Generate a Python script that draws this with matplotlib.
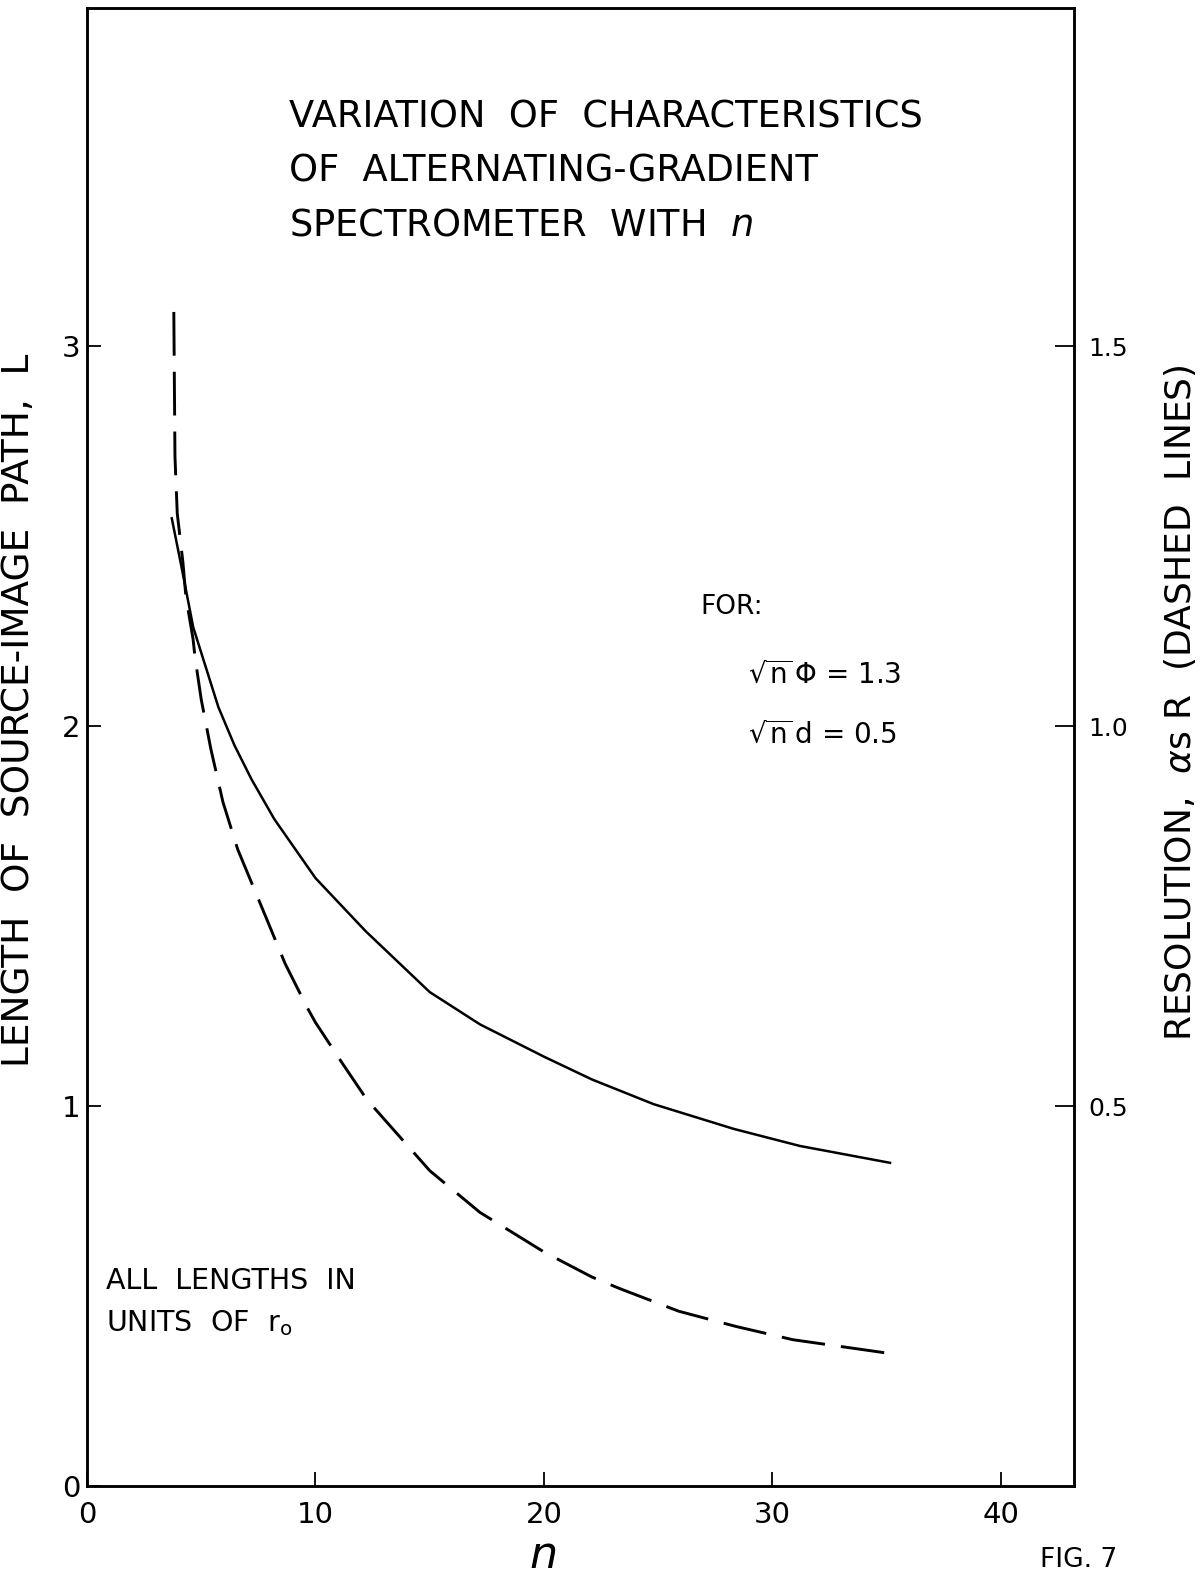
import numpy as np
import matplotlib
matplotlib.use("Agg")
from matplotlib import pyplot as plt

plt.rcParams['font.family'] = ['DejaVu Sans']
plt.rcParams['mathtext.fontset'] = 'dejavusans'

# solid curve: length of source-image path L vs n (left axis)
n_len = [3.7, 4.1, 4.65, 5.75, 6.45, 7.2, 8.2, 10.0, 12.2, 15.0, 17.2, 20.0, 22.1, 24.8, 28.3, 31.2, 35.2]
L_len = [2.55, 2.43, 2.26, 2.05, 1.95, 1.86, 1.755, 1.60, 1.46, 1.30, 1.215, 1.13, 1.07, 1.005, 0.94, 0.895, 0.85]

n_res = [3.8, 3.85, 3.95, 4.2, 4.33, 4.64, 4.73, 5.0, 5.42, 5.95, 6.6, 7.88, 8.67, 9.63, 10.0,
         11.16, 12.25, 15.0, 17.2, 20.0, 22.1, 23.3, 25.9, 28.4, 30.9, 35.0]
L_res = [3.09, 2.71, 2.56, 2.43, 2.34, 2.23, 2.18, 2.07, 1.94, 1.80, 1.675, 1.49, 1.375, 1.26, 1.22,
         1.114, 1.017, 0.83, 0.72, 0.616, 0.55, 0.52, 0.46, 0.42, 0.385, 0.35]
R_res = [v / 2 for v in L_res]

x_ticks = [0, 10, 20, 30, 40]
left_ticks = [0, 1, 2, 3]
right_ticks = [0.5, 1.0, 1.5]
right_labels = ["0.5", "1.0", "1.5"]

W, H = 1200, 1575
fig = plt.figure(figsize=(W / 100, H / 100), dpi=100)
ax = fig.add_axes([87 / W, 1 - 1486 / H, (1074 - 87) / W, (1486 - 8) / H])
ax2 = ax.twinx()

ax.set_xlim(0, 43.2)
ax.set_ylim(0, 3.89)
ax2.set_ylim(0, 3.89 / 2)

ax.plot(n_len, L_len, color='black', lw=1.8, solid_capstyle='butt', solid_joinstyle='round')
ax2.plot(n_res, R_res, color='black', lw=2.1, dashes=(15, 5.5), dash_capstyle='butt')

for a in (ax, ax2):
    for s in a.spines.values():
        s.set_linewidth(1.8)

ax.set_xticks(x_ticks)
ax.set_xticklabels([str(t) for t in x_ticks])
ax.set_yticks(left_ticks)
ax.set_yticklabels([str(t) for t in left_ticks])
ax.tick_params(axis='both', direction='in', length=10, width=1.3, labelsize=21)
ax.tick_params(axis='x', pad=11)
ax.tick_params(axis='y', pad=5)
ax2.set_yticks(right_ticks)
ax2.set_yticklabels(right_labels)
ax2.tick_params(axis='y', direction='in', length=14, width=1.3, labelsize=18, pad=10)

ax.set_ylabel("LENGTH  OF  SOURCE-IMAGE  PATH,  L", fontsize=27)
ax.yaxis.set_label_coords(-0.051, 0.525)
ax2.set_ylabel(r"RESOLUTION,  $\alpha$s R  (DASHED  LINES)", fontsize=26, rotation=90)
ax2.yaxis.set_label_coords(1.089, 0.53)

# x label drawn as figure text so it stays on the page
fig.text(543 / W, 1 - 1568 / H, r"$\mathit{n}$", fontsize=32, ha='center', va='baseline')

# title block
title_lines = ["VARIATION  OF  CHARACTERISTICS",
               "OF  ALTERNATING-GRADIENT",
               r"SPECTROMETER  WITH  $\mathit{n}$"]
for i, line in enumerate(title_lines):
    fig.text(289 / W, 1 - (117 + 54 * i) / H, line, fontsize=26.5, va='center', ha='left')

fig.text(700 / W, 1 - 607 / H, "FOR:", fontsize=19, va='center', ha='left')
fig.text(748 / W, 1 - 675 / H, r"$\sqrt{\mathrm{n}}\,\Phi$ = 1.3", fontsize=20, va='center', ha='left')
fig.text(748 / W, 1 - 735 / H, r"$\sqrt{\mathrm{n}}\,$d = 0.5", fontsize=20, va='center', ha='left')

fig.text(106 / W, 1 - 1281 / H, "ALL  LENGTHS  IN", fontsize=20.5, va='center', ha='left')
fig.text(106 / W, 1 - 1323 / H, r"UNITS  OF  r$_{\mathrm{o}}$", fontsize=20.5, va='center', ha='left')

fig.text(1040 / W, 1 - 1573 / H, "FIG. 7", fontsize=19, va='bottom', ha='left')

fig.savefig("out.png", dpi=100)
